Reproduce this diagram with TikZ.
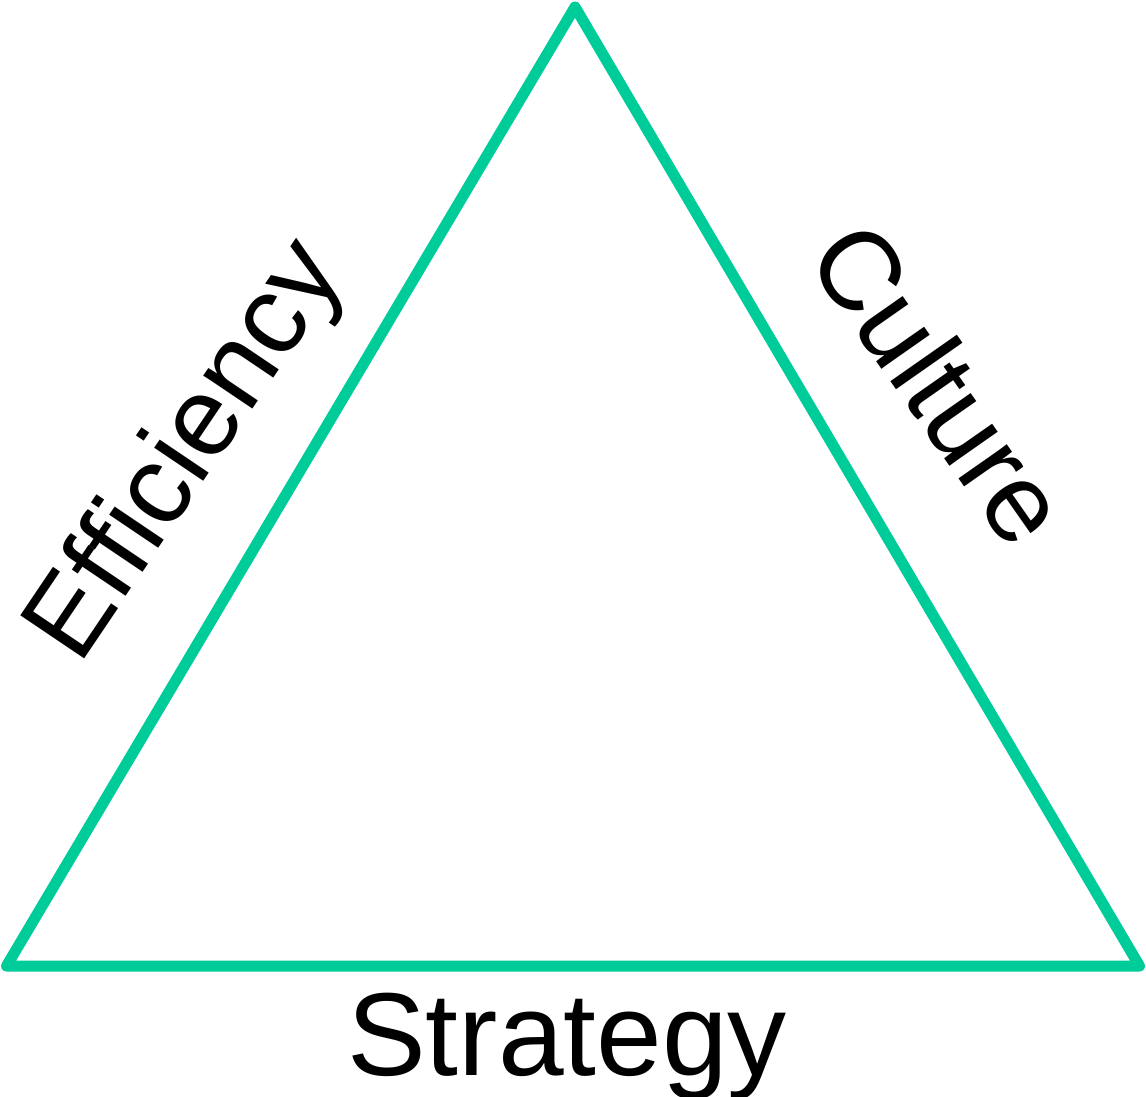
\documentclass[tikz,border=0pt]{standalone}
\usepackage{fontspec}
\setmainfont{Liberation Sans}
\definecolor{tri}{HTML}{00CC99}
\begin{document}
\begin{tikzpicture}[x=1pt,y=-1pt,
  side/.style={draw=tri,line width=11pt,line join=round},
  lbl/.style={inner sep=0pt,font=\fontsize{118}{118}\selectfont},
  slbl/.style={inner sep=0pt,font=\fontsize{112}{112}\selectfont}]
\useasboundingbox (0,0) rectangle (1146,1096);
\coordinate (top) at (575,7);
\coordinate (bl) at (6.5,966);
\coordinate (br) at (1139.5,966);
\draw[side] (top) -- (bl) -- (br) -- cycle;
\node[slbl,anchor=base west,rotate=56] (eff) at (79,667) {Efficiency};
\node[slbl,anchor=base west,rotate=-55] (cul) at (804,258) {Culture};
\node[lbl,anchor=base] (str) at (567,1075) {Strategy};
\end{tikzpicture}
\end{document}
